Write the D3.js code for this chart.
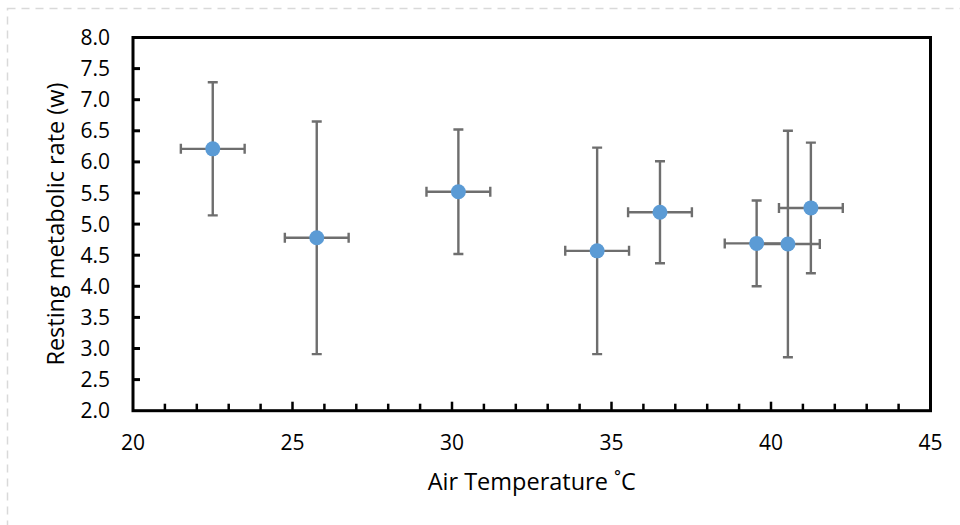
<!doctype html>
<html lang="en">
  <head>
    <meta charset="utf-8">
    <script src="https://d3js.org/d3.v7.min.js"></script>
    <title>Resting metabolic rate</title>
    <style>
      body { margin: 0; background: #fff; }
      text { font-family: "Open Sans", sans-serif; fill: #000; }
      .tick-label { font-size: 21px; }
      .axis-title { font-size: 23.5px; }
      .err { stroke: #6e6e6e; stroke-width: 2.4px; fill: none; }
      .dot { fill: #5b9bd5; }
    </style>
  </head>
  <body>
    <svg width="960" height="525"></svg>
    <script>
      // values
      const temperature = [22.5, 25.76, 30.2, 34.55, 36.52, 39.55, 40.53, 41.25];
      const tempError   = [1.0, 1.0, 1.0, 1.0, 1.0, 1.0, 1.0, 1.0];
      const metabolic   = [6.21, 4.78, 5.52, 4.57, 5.19, 4.69, 4.68, 5.26];
      const rateError   = [1.07, 1.87, 1.0, 1.66, 0.82, 0.69, 1.82, 1.05];

      const xTicks = [20, 25, 30, 35, 40, 45];
      const xMinorTicks = d3.range(21, 45);
      const yTicks = [2.0, 2.5, 3.0, 3.5, 4.0, 4.5, 5.0, 5.5, 6.0, 6.5, 7.0, 7.5, 8.0];

      const points = temperature.map((t, i) => ({
        x: t, xe: tempError[i], y: metabolic[i], ye: rateError[i]
      }));

      const svg = d3.select("svg");

      // outer dashed frame
      svg.append("rect")
        .attr("x", 7.5).attr("y", 8.5)
        .attr("width", 980).attr("height", 540)
        .attr("fill", "none")
        .attr("stroke", "#d9d9d9")
        .attr("stroke-width", 1.5)
        .attr("stroke-dasharray", "8,6");

      const plotLeft = 133, plotRight = 930.5, plotTop = 37.5, plotBottom = 410.7;

      const x = d3.scaleLinear().domain([20, 45]).range([plotLeft, plotRight]);
      const y = d3.scaleLinear().domain([2, 8]).range([plotBottom, plotTop]);

      // y ticks (inside) and labels
      svg.append("g").selectAll("line")
        .data(yTicks.slice(1, -1))
        .enter().append("line")
        .attr("x1", plotLeft).attr("x2", plotLeft + 7)
        .attr("y1", d => y(d)).attr("y2", d => y(d))
        .attr("stroke", "#000").attr("stroke-width", 3);

      svg.append("g").selectAll("text")
        .data(yTicks)
        .enter().append("text")
        .attr("class", "tick-label")
        .attr("x", plotLeft - 23)
        .attr("y", d => y(d))
        .attr("dy", "0.36em")
        .attr("text-anchor", "end")
        .text(d => d.toFixed(1));

      // x ticks (inside, pointing up)
      svg.append("g").selectAll("line")
        .data(xMinorTicks)
        .enter().append("line")
        .attr("x1", d => x(d)).attr("x2", d => x(d))
        .attr("y1", plotBottom).attr("y2", d => plotBottom - (d % 5 === 0 ? 9 : 7))
        .attr("stroke", "#000").attr("stroke-width", 2.5);

      svg.append("g").selectAll("text")
        .data(xTicks)
        .enter().append("text")
        .attr("class", "tick-label")
        .attr("x", d => x(d))
        .attr("y", 450)
        .attr("text-anchor", "middle")
        .text(d => d);

      // plot frame
      svg.append("rect")
        .attr("x", plotLeft).attr("y", plotTop)
        .attr("width", plotRight - plotLeft).attr("height", plotBottom - plotTop)
        .attr("fill", "none")
        .attr("stroke", "#000")
        .attr("stroke-width", 3);

      // error bars
      const cap = 5;
      const bars = svg.append("g").selectAll("g")
        .data(points)
        .enter().append("g");

      bars.append("path")
        .attr("class", "err")
        .attr("d", d => {
          const cx = x(d.x), cy = y(d.y);
          const y0 = y(d.y + d.ye), y1 = y(d.y - d.ye);
          const x0 = x(d.x - d.xe), x1 = x(d.x + d.xe);
          return `M${cx},${y0}V${y1}` +
            `M${cx - cap},${y0}H${cx + cap}M${cx - cap},${y1}H${cx + cap}` +
            `M${x0},${cy}H${x1}` +
            `M${x0},${cy - cap}V${cy + cap}M${x1},${cy - cap}V${cy + cap}`;
        });

      svg.append("g").selectAll("circle")
        .data(points)
        .enter().append("circle")
        .attr("class", "dot")
        .attr("cx", d => x(d.x))
        .attr("cy", d => y(d.y))
        .attr("r", 7.5);

      // axis titles
      svg.append("text")
        .attr("class", "axis-title")
        .attr("x", (plotLeft + plotRight) / 2)
        .attr("y", 490)
        .attr("text-anchor", "middle")
        .text("Air Temperature \u02DAC");

      svg.append("text")
        .attr("class", "axis-title")
        .attr("transform", `translate(64,${(plotTop + plotBottom) / 2}) rotate(-90)`)
        .attr("text-anchor", "middle")
        .text("Resting metabolic rate (w)");
    </script>
  </body>
</html>
